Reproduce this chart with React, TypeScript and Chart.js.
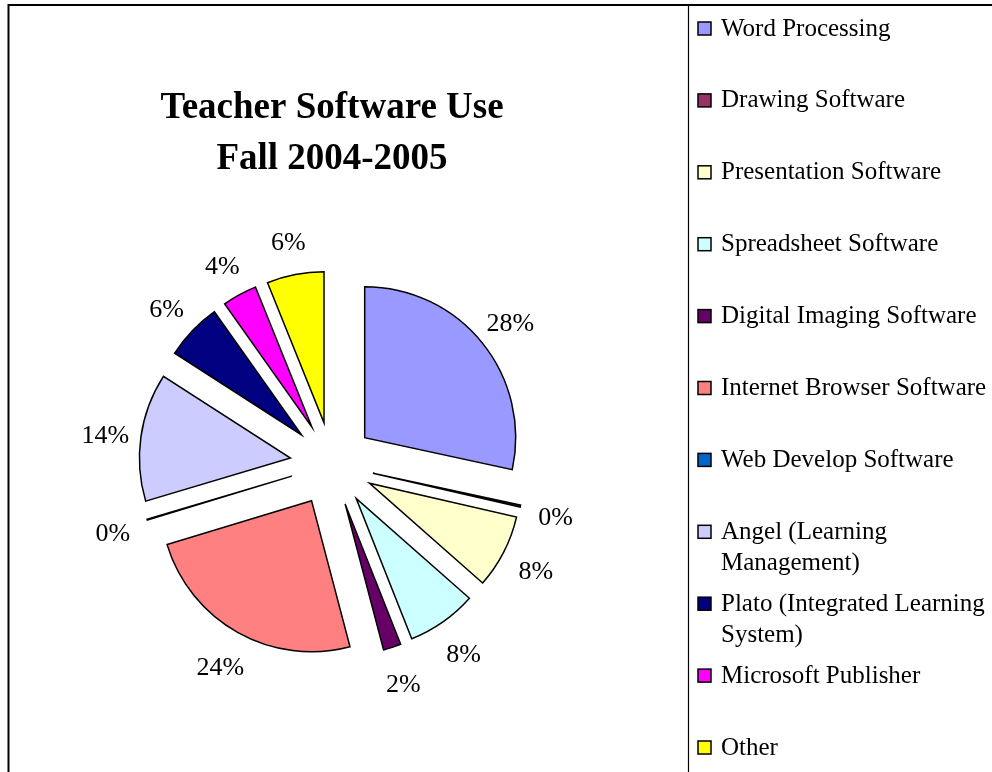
import React, { useEffect, useRef } from "react";
import { Chart, registerables } from "chart.js";

Chart.register(...registerables);

// ---- data ----
const categories = [
  "Word Processing",
  "Drawing Software",
  "Presentation Software",
  "Spreadsheet Software",
  "Digital Imaging Software",
  "Internet Browser Software",
  "Web Develop Software",
  "Angel (Learning Management)",
  "Plato (Integrated Learning System)",
  "Microsoft Publisher",
  "Other",
];
const shares = [28.4, 0.2, 7.9, 7.5, 1.9, 24.4, 0.1, 13.7, 6.1, 3.7, 6.1];
const colors = [
  "#9999FF",
  "#993366",
  "#FFFFCC",
  "#CCFFFF",
  "#660066",
  "#FF8080",
  "#0066CC",
  "#CCCCFF",
  "#000080",
  "#FF00FF",
  "#FFFF00",
];
const titleLines = ["Teacher Software Use", "Fall 2004-2005"];

// ---- layout / style ----
const W = 992;
const H = 772;
const SERIF = '"Liberation Serif", "Times New Roman", Times, serif';
const RADIUS = 151;
const EXPLODE = 42;
const LABEL_DIST = 229;
const LABEL_DY = 4;

const framePlugin = {
  id: "frame",
  beforeDraw(chart: any) {
    const ctx = chart.ctx;
    ctx.save();
    ctx.fillStyle = "#fff";
    ctx.fillRect(0, 0, W, H);
    ctx.strokeStyle = "#000";
    ctx.lineWidth = 2;
    ctx.beginPath();
    ctx.moveTo(8.5, H);
    ctx.lineTo(8.5, 5);
    ctx.lineTo(W, 5);
    ctx.stroke();
    ctx.lineWidth = 1.2;
    ctx.beginPath();
    ctx.moveTo(688.5, 5);
    ctx.lineTo(688.5, H);
    ctx.stroke();
    ctx.restore();
  },
};

const explodePlugin = {
  id: "explode",
  beforeDatasetDraw(chart: any, args: any) {
    const ctx = chart.ctx;
    args.meta.data.forEach((arc: any) => {
      const mid = (arc.startAngle + arc.endAngle) / 2;
      ctx.save();
      ctx.translate(Math.cos(mid) * EXPLODE, Math.sin(mid) * EXPLODE);
      arc.draw(ctx, chart.chartArea);
      ctx.restore();
    });
    return false;
  },
};

const labelPlugin = {
  id: "pctLabels",
  afterDatasetsDraw(chart: any) {
    const ctx = chart.ctx;
    const meta = chart.getDatasetMeta(0);
    const data = chart.data.datasets[0].data as number[];
    const total = data.reduce((a, b) => a + b, 0);
    ctx.save();
    ctx.font = `26px ${SERIF}`;
    ctx.fillStyle = "#000";
    ctx.textAlign = "center";
    ctx.textBaseline = "middle";
    meta.data.forEach((arc: any, i: number) => {
      const mid = (arc.startAngle + arc.endAngle) / 2;
      const x = arc.x + Math.cos(mid) * LABEL_DIST;
      const y = arc.y + Math.sin(mid) * LABEL_DIST + LABEL_DY;
      ctx.fillText(Math.round((data[i] / total) * 100) + "%", x, y);
    });
    ctx.restore();
  },
};

const titlePlugin = {
  id: "titleText",
  afterDraw(chart: any) {
    const ctx = chart.ctx;
    ctx.save();
    ctx.font = `bold 37px ${SERIF}`;
    ctx.fillStyle = "#000";
    ctx.textAlign = "center";
    ctx.textBaseline = "middle";
    const cx = (chart.chartArea.left + chart.chartArea.right) / 2;
    titleLines.forEach((t, i) => ctx.fillText(t, cx, 108 + i * 51));
    ctx.restore();
  },
};

const legendPlugin = {
  id: "customLegend",
  afterDraw(chart: any) {
    const ctx = chart.ctx;
    const labels = chart.data.labels as string[];
    ctx.save();
    ctx.font = `25px ${SERIF}`;
    ctx.textBaseline = "middle";
    ctx.textAlign = "left";
    const maxW = 272;
    labels.forEach((label, i) => {
      const y = 29 + i * 71.9;
      ctx.fillStyle = colors[i];
      ctx.fillRect(698, y - 7, 13, 13);
      ctx.strokeStyle = "#000";
      ctx.lineWidth = 1.5;
      ctx.strokeRect(698, y - 7, 13, 13);
      const words = label.split(" ");
      const lines: string[] = [];
      let cur = "";
      words.forEach((w) => {
        const test = cur ? cur + " " + w : w;
        if (ctx.measureText(test).width > maxW && cur) {
          lines.push(cur);
          cur = w;
        } else cur = test;
      });
      if (cur) lines.push(cur);
      ctx.fillStyle = "#000";
      lines.forEach((ln, j) => ctx.fillText(ln, 721, y + j * 31));
    });
    ctx.restore();
  },
};

export default function App() {
  const ref = useRef<HTMLCanvasElement>(null);
  useEffect(() => {
    const canvas = ref.current!;
    const chart = new Chart(canvas, {
      type: "pie",
      data: {
        labels: categories,
        datasets: [
          {
            data: shares,
            backgroundColor: colors,
            borderColor: "#000",
            borderWidth: 1.5,
            borderJoinStyle: "miter",
            hoverOffset: 0,
          } as any,
        ],
      },
      options: {
        responsive: false,
        animation: false,
        radius: RADIUS,
        events: [],
        layout: { padding: { left: 100, right: 428, top: 204, bottom: 48 } },
        plugins: {
          legend: { display: false },
          title: { display: false },
          tooltip: { enabled: false },
        },
      } as any,
      plugins: [framePlugin, explodePlugin, labelPlugin, titlePlugin, legendPlugin],
    });
    return () => chart.destroy();
  }, []);
  return (
    <div style={{ position: "absolute", left: 0, top: 0, width: W, height: H, background: "#fff" }}>
      <canvas ref={ref} width={W} height={H} style={{ display: "block" }} />
    </div>
  );
}
